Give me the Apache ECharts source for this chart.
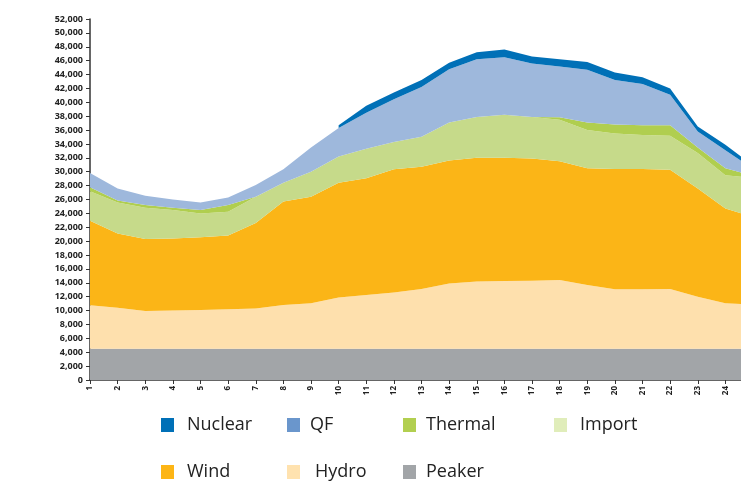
<!DOCTYPE html>
<html>
<head>
<meta charset="utf-8">
<script src="https://cdn.jsdelivr.net/npm/echarts@6/dist/echarts.min.js"></script>
<style>
  html, body { margin: 0; padding: 0; background: #fff; }
  #main { width: 741px; height: 484px; }
</style>
</head>
<body>
<div id="main"></div>
<script>
// hour categories (the 25th point sits just past the right edge, as in the cropped original)
var hours = ['1','2','3','4','5','6','7','8','9','10','11','12','13','14','15','16','17','18','19','20','21','22','23','24',''];

var peaker  = [4500,4500,4500,4500,4500,4500,4500,4500,4500,4500,4500,4500,4500,4500,4500,4500,4500,4500,4500,4500,4500,4500,4500,4500,4500];
var hydro   = [6260,5900,5440,5500,5600,5700,5800,6300,6550,7400,7750,8100,8600,9400,9700,9760,9800,9900,9200,8570,8570,8600,7500,6550,6400];
var wind    = [12190,10700,10360,10400,10450,10600,12300,14900,15350,16500,16800,17750,17600,17700,17800,17740,17600,17100,16800,17330,17330,17200,15600,13650,12600];
var imports = [4250,4450,4500,4100,3450,3450,3800,2700,3600,3800,4250,3950,4350,5500,5900,6200,6000,6000,5500,5100,4900,4900,5100,4800,5600];
var thermal = [550,300,400,300,500,950,0,0,0,0,0,0,0,0,0,0,0,350,1100,1300,1400,1500,800,1000,300];
var qf      = [2050,1750,1350,1200,1050,1100,1700,1950,3500,4100,5200,6150,7150,7650,8300,8300,7700,7300,7600,6400,5950,4400,2300,2600,1000];
var nuclear = [null,null,null,null,null,null,null,null,null,400,1000,950,1000,950,1000,1100,1000,1050,1100,1100,950,900,700,800,500];

var yTicks = [0, 52000, 2000]; // min, max, step

var myChart = echarts.init(document.getElementById('main'));

function area(name, data, areaColor, legendColor) {
    return {
        name: name,
        type: 'line',
        stack: 'total',
        data: data,
        showSymbol: false,
        symbol: 'none',
        lineStyle: {width: 0},
        itemStyle: {color: legendColor},
        areaStyle: {color: areaColor, opacity: 1}
    };
}

function leg(name, left, top, gap) {
    return {
        data: [name],
        left: left,
        top: top,
        padding: 0,
        icon: 'rect',
        itemWidth: 13,
        itemHeight: 14,
        selectedMode: false,
        textStyle: {
            fontFamily: 'Open Sans',
            fontSize: 18,
            color: '#222',
            padding: [0, 0, 0, gap]
        }
    };
}

var option = {
    animation: false,
    grid: {left: 90, right: -12, top: 19, bottom: 104, outerBoundsMode: 'none', containLabel: false},
    legend: [
        leg('Nuclear', 161, 416, 8),
        leg('QF', 287, 416, 5),
        leg('Thermal', 403, 416, 5),
        leg('Import', 554, 416, 8),
        leg('Wind', 161, 463, 8),
        leg('Hydro', 287, 463, 10),
        leg('Peaker', 403, 463, 5)
    ],
    xAxis: {
        type: 'category',
        boundaryGap: false,
        data: hours,
        axisLine: {lineStyle: {color: '#333', width: 1.5}},
        axisTick: {length: 4, lineStyle: {color: '#333'}},
        axisLabel: {
            rotate: 90,
            fontSize: 8,
            fontWeight: 'bold',
            fontFamily: 'Open Sans',
            color: '#222',
            margin: 6,
            interval: 0
        }
    },
    yAxis: {
        type: 'value',
        min: yTicks[0],
        max: yTicks[1],
        interval: yTicks[2],
        splitLine: {show: false},
        axisLine: {show: true, lineStyle: {color: '#333', width: 1.5}},
        axisTick: {show: true, length: 4, lineStyle: {color: '#333'}},
        axisLabel: {
            fontSize: 9,
            fontWeight: 'bold',
            fontFamily: 'Open Sans',
            color: '#222',
            margin: 7,
            formatter: function (v) { return v.toLocaleString('en-US'); }
        }
    },
    series: [
        area('Peaker', peaker, '#A2A5A8', '#A2A5A8'),
        area('Hydro', hydro, '#FEE0AD', '#FFE2AF'),
        area('Wind', wind, '#FBB517', '#FDB515'),
        area('Import', imports, '#C6DA8A', '#E0EDBA'),
        area('Thermal', thermal, '#B0CE4F', '#B2CF50'),
        area('QF', qf, '#9EB8DC', '#6A96CC'),
        area('Nuclear', nuclear, '#0070B7', '#0070B7')
    ]
};

myChart.setOption(option, true);
</script>
</body>
</html>
